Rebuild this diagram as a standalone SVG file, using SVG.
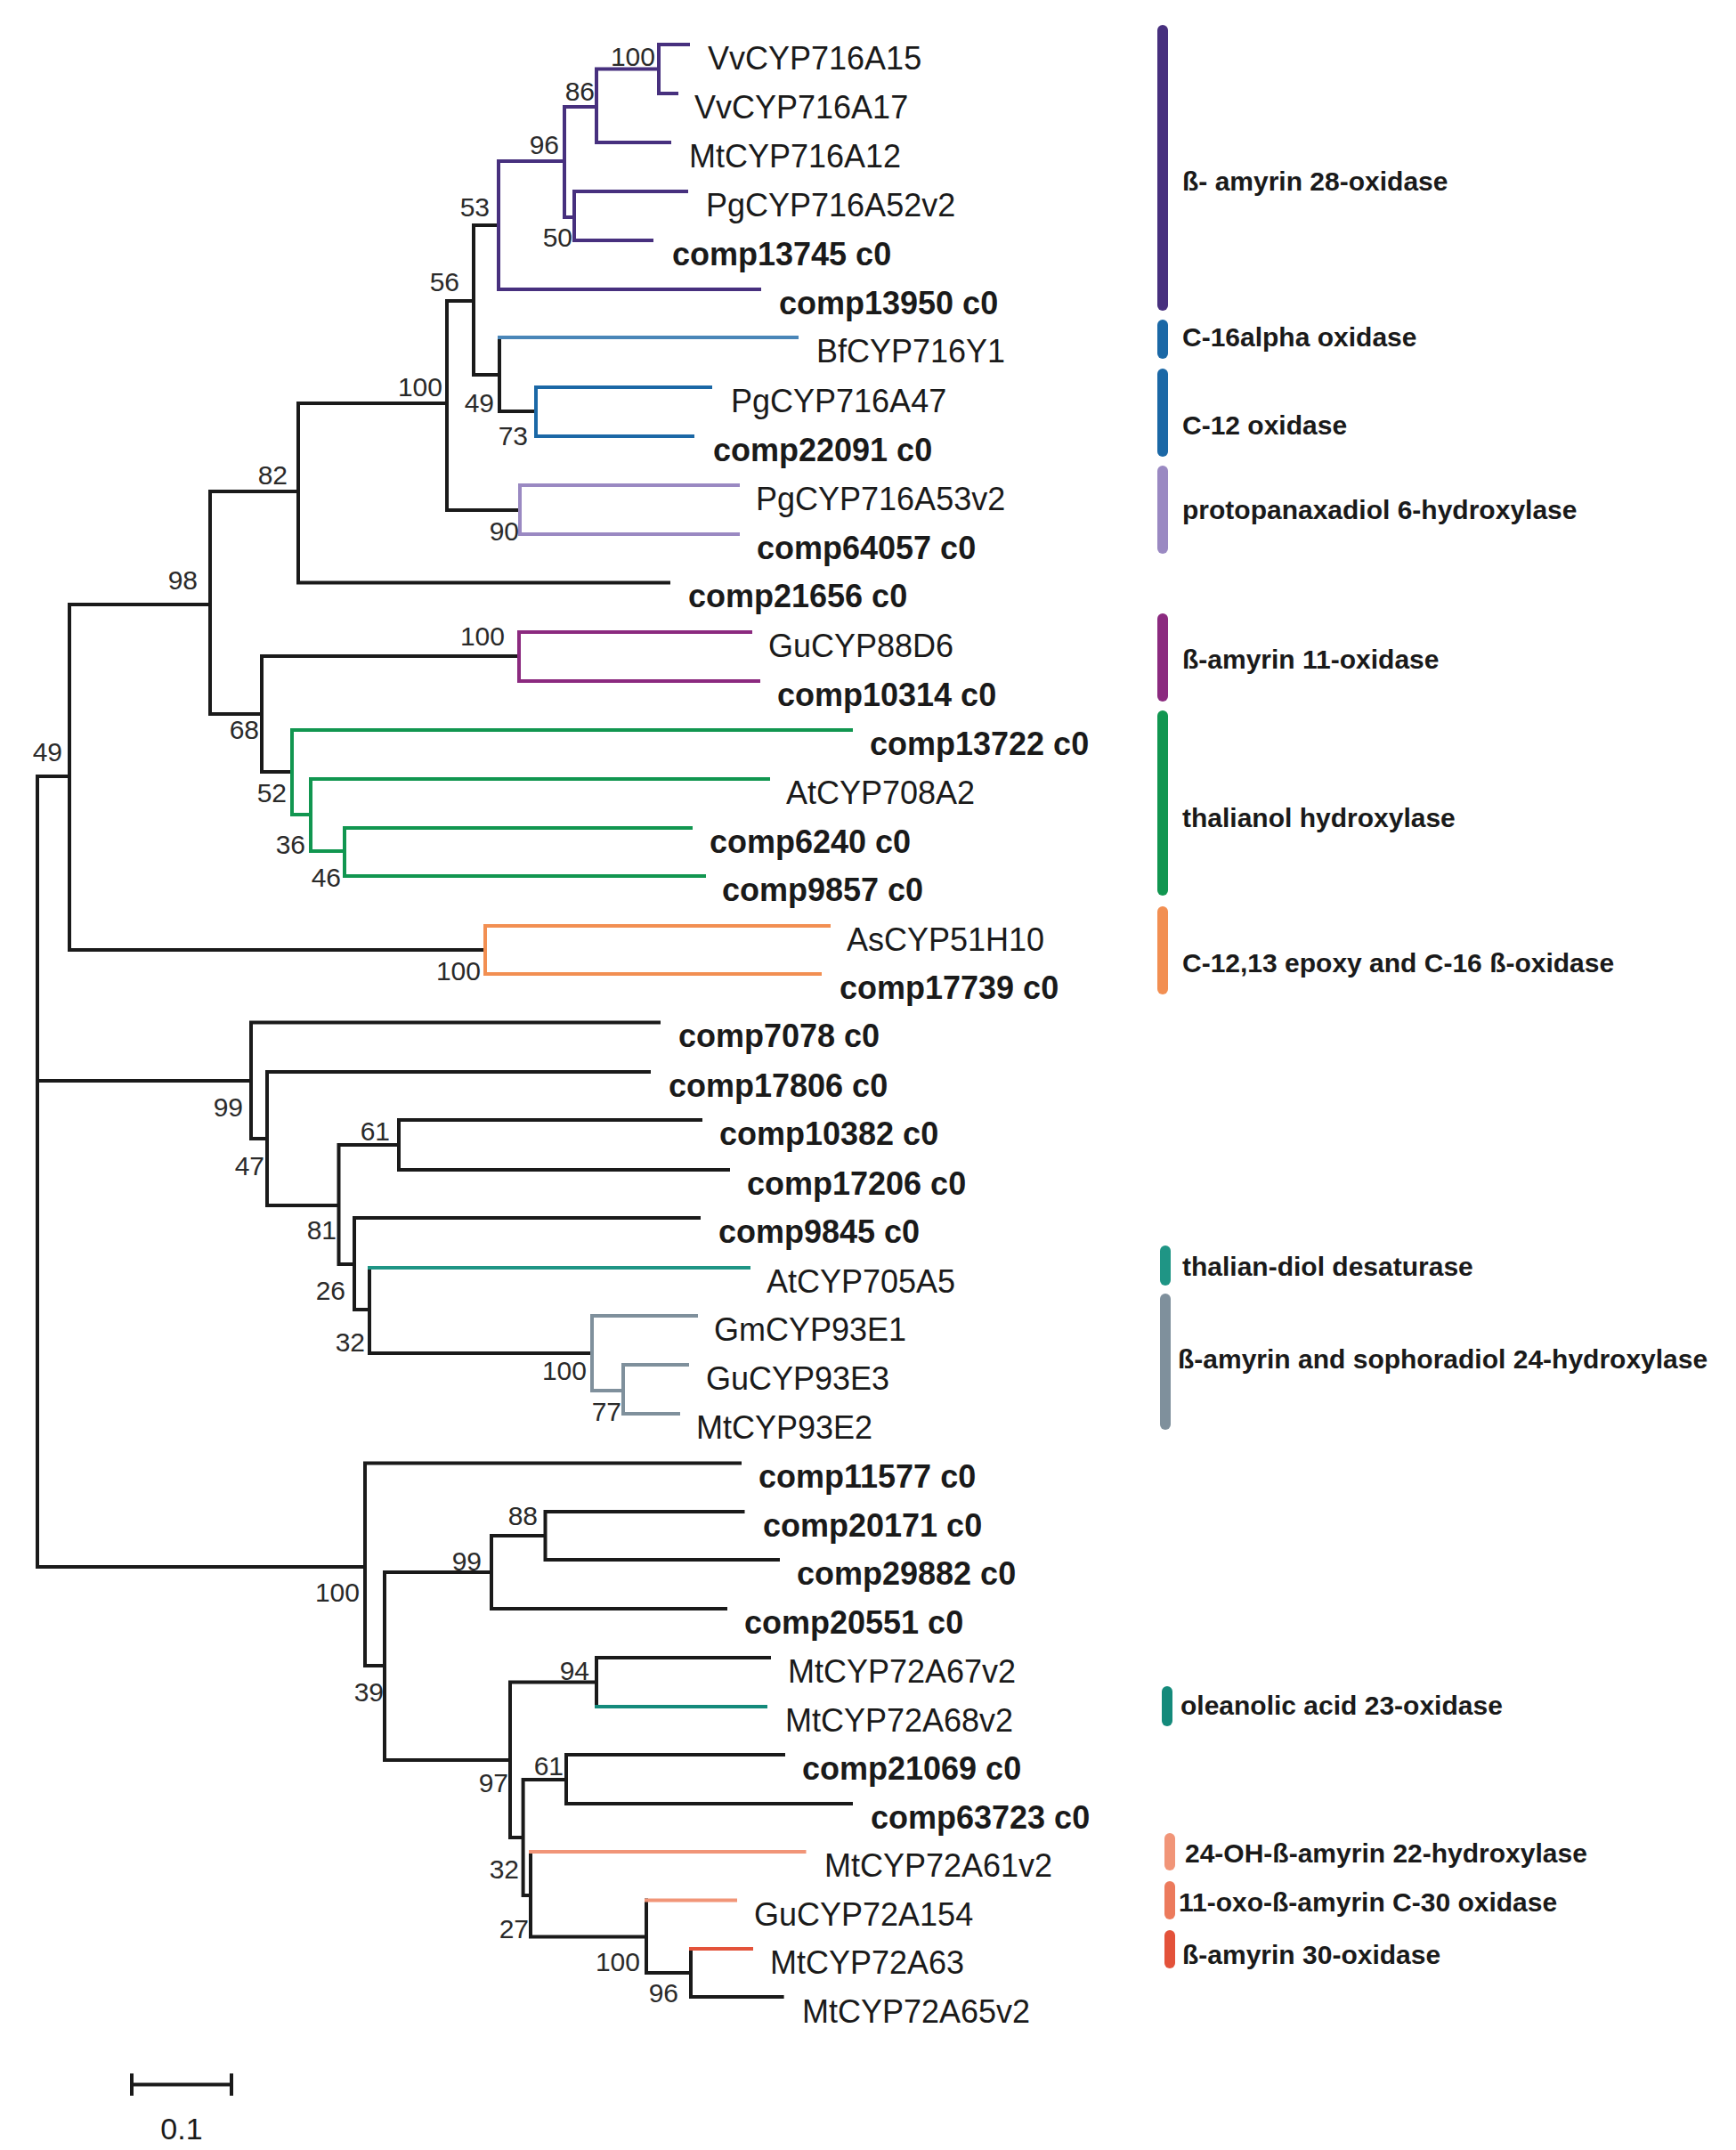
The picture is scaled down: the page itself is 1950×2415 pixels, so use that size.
<svg xmlns="http://www.w3.org/2000/svg" width="1950" height="2415" viewBox="0 0 1950 2415">
<style>
.b{fill:none;stroke-width:4;stroke-linecap:square}
.k{stroke:#1a1a1a}.pu{stroke:#47307e}.bf{stroke:#4a86b8}.bl{stroke:#1b68a6}.lv{stroke:#9a89c2}.mg{stroke:#8b2a7f}.gr{stroke:#119650}.or{stroke:#f28f52}.tl{stroke:#1f9585}.gy{stroke:#7f909c}.ol{stroke:#148a7b}.sa{stroke:#f19578}.s2{stroke:#ec7a5c}.rd{stroke:#e3523a}
.leaf{font-family:"Liberation Sans",Arial,sans-serif;font-size:36px;fill:#1a1a1a}
.bold{font-weight:bold}
.bs{font-family:"Liberation Sans",Arial,sans-serif;font-size:30px;fill:#2a2a2a;text-anchor:end}
.lg{font-family:"Liberation Sans",Arial,sans-serif;font-size:30px;font-weight:bold;fill:#1a1a1a}
.bar{stroke-width:12;stroke-linecap:round;fill:none}
</style>
<rect width="1950" height="2415" fill="#ffffff"/>
<g id="connectors">
<path class="b k" d="M42,872V1760M42,872H78M42,1214H282M42,1760H410
M78,679V1067M78,679H236M78,1067H545
M236,552V802M236,552H335M236,802H294
M335,453V654.5M335,453H502M335,654.5H751
M502,338V573M502,338H532M502,573H584
M532,253V421M532,253H560M532,421H561
M561,379V462M561,462H602
M294,737V867M294,737H583M294,867H328
M282,1148.5V1279M282,1148.5H740M282,1279H300
M300,1204V1354M300,1204H729M300,1354H380.5
M380.5,1286V1420M380.5,1286H448M380.5,1420H398
M448,1258V1314M448,1258H787M448,1314H818
M398,1368V1471M398,1368H785M398,1471H415
M415,1424V1520M415,1520H665
M410,1643.5V1871M410,1643.5H831M410,1871H432
M432,1766V1977M432,1766H552M432,1977H573
M552,1725V1807M552,1725H612.5M552,1807H815
M612.5,1698V1752M612.5,1698H834.5M612.5,1752H874
M573,1889.5V2064M573,1889.5H670M573,2064H587.6
M670,1862V1917M670,1862H864
M587.6,1999V2129M587.6,1999H636M587.6,2129H596
M636,1971V2026M636,1971H880M636,2026H956
M596,2080V2175.5M596,2175.5H726
M726,2134.5V2216M726,2216H776
M776,2189V2243M776,2243H878.6"/>
<path class="b pu" d="M560,181V325M560,181H634M560,325H853
M634,120V244M634,120H670M634,244H645
M670,77.5V160M670,77.5H740M670,160H752
M740,50V105M740,50H773M740,105H760
M645,215V270M645,215H771M645,270H732"/>
<path class="b bf" d="M561,379H895"/>
<path class="b bl" d="M602,435V490M602,435H798M602,490H778"/>
<path class="b lv" d="M584,545V600M584,545H829M584,600H829"/>
<path class="b mg" d="M583,710V765M583,710H843M583,765H852"/>
<path class="b gr" d="M328,820V915M328,820H956M328,915H349
M349,875V956M349,875H863M349,956H387
M387,930V984M387,930H776M387,984H791"/>
<path class="b or" d="M545,1040V1094M545,1040H931M545,1094H921"/>
<path class="b tl" d="M415,1424H841"/>
<path class="b gy" d="M665,1478V1562M665,1478H782M665,1562H700
M700,1533V1588M700,1533H772M700,1588H762"/>
<path class="b ol" d="M670,1917H860"/>
<path class="b sa" d="M596,2080H903.5M726,2134.5H826"/>
<path class="b rd" d="M776,2189H844"/>
</g>
<g id="bootstrap">
<text class="bs" x="736" y="74">100</text>
<text class="bs" x="668" y="113">86</text>
<text class="bs" x="628" y="173">96</text>
<text class="bs" x="550" y="243">53</text>
<text class="bs" x="643" y="277">50</text>
<text class="bs" x="516" y="327">56</text>
<text class="bs" x="497" y="445">100</text>
<text class="bs" x="555" y="463">49</text>
<text class="bs" x="593" y="500">73</text>
<text class="bs" x="323" y="544">82</text>
<text class="bs" x="583" y="607">90</text>
<text class="bs" x="222" y="662">98</text>
<text class="bs" x="567" y="725">100</text>
<text class="bs" x="291" y="830">68</text>
<text class="bs" x="70" y="855">49</text>
<text class="bs" x="322" y="901">52</text>
<text class="bs" x="343" y="959">36</text>
<text class="bs" x="383" y="996">46</text>
<text class="bs" x="540" y="1101">100</text>
<text class="bs" x="273" y="1254">99</text>
<text class="bs" x="297" y="1320">47</text>
<text class="bs" x="438" y="1281">61</text>
<text class="bs" x="378" y="1392">81</text>
<text class="bs" x="388" y="1460">26</text>
<text class="bs" x="410" y="1518">32</text>
<text class="bs" x="659" y="1550">100</text>
<text class="bs" x="698" y="1596">77</text>
<text class="bs" x="604" y="1713">88</text>
<text class="bs" x="541" y="1764">99</text>
<text class="bs" x="404" y="1799">100</text>
<text class="bs" x="431" y="1911">39</text>
<text class="bs" x="662" y="1887">94</text>
<text class="bs" x="571" y="2013">97</text>
<text class="bs" x="633" y="1994">61</text>
<text class="bs" x="583" y="2110">32</text>
<text class="bs" x="594" y="2177">27</text>
<text class="bs" x="719" y="2214">100</text>
<text class="bs" x="762" y="2249">96</text>
</g>
<g id="leaves">
<g id="VvCYP716A15"><text class="leaf" x="795" y="78">VvCYP716A15</text></g>
<g id="VvCYP716A17"><text class="leaf" x="780" y="133">VvCYP716A17</text></g>
<g id="MtCYP716A12"><text class="leaf" x="774" y="188">MtCYP716A12</text></g>
<g id="PgCYP716A52v2"><text class="leaf" x="793" y="243">PgCYP716A52v2</text></g>
<g id="comp13745"><text class="leaf bold" x="755" y="298">comp13745 c0</text></g>
<g id="comp13950"><text class="leaf bold" x="875" y="353">comp13950 c0</text></g>
<g id="BfCYP716Y1"><text class="leaf" x="917" y="407">BfCYP716Y1</text></g>
<g id="PgCYP716A47"><text class="leaf" x="821" y="463">PgCYP716A47</text></g>
<g id="comp22091"><text class="leaf bold" x="801" y="518">comp22091 c0</text></g>
<g id="PgCYP716A53v2"><text class="leaf" x="849" y="573">PgCYP716A53v2</text></g>
<g id="comp64057"><text class="leaf bold" x="850" y="628">comp64057 c0</text></g>
<g id="comp21656"><text class="leaf bold" x="773" y="682">comp21656 c0</text></g>
<g id="GuCYP88D6"><text class="leaf" x="863" y="738">GuCYP88D6</text></g>
<g id="comp10314"><text class="leaf bold" x="873" y="793">comp10314 c0</text></g>
<g id="comp13722"><text class="leaf bold" x="977" y="848">comp13722 c0</text></g>
<g id="AtCYP708A2"><text class="leaf" x="883" y="903">AtCYP708A2</text></g>
<g id="comp6240"><text class="leaf bold" x="797" y="958">comp6240 c0</text></g>
<g id="comp9857"><text class="leaf bold" x="811" y="1012">comp9857 c0</text></g>
<g id="AsCYP51H10"><text class="leaf" x="951" y="1068">AsCYP51H10</text></g>
<g id="comp17739"><text class="leaf bold" x="943" y="1122">comp17739 c0</text></g>
<g id="comp7078"><text class="leaf bold" x="762" y="1176">comp7078 c0</text></g>
<g id="comp17806"><text class="leaf bold" x="751" y="1232">comp17806 c0</text></g>
<g id="comp10382"><text class="leaf bold" x="808" y="1286">comp10382 c0</text></g>
<g id="comp17206"><text class="leaf bold" x="839" y="1342">comp17206 c0</text></g>
<g id="comp9845"><text class="leaf bold" x="807" y="1396">comp9845 c0</text></g>
<g id="AtCYP705A5"><text class="leaf" x="861" y="1452">AtCYP705A5</text></g>
<g id="GmCYP93E1"><text class="leaf" x="802" y="1506">GmCYP93E1</text></g>
<g id="GuCYP93E3"><text class="leaf" x="793" y="1561">GuCYP93E3</text></g>
<g id="MtCYP93E2"><text class="leaf" x="782" y="1616">MtCYP93E2</text></g>
<g id="comp11577"><text class="leaf bold" x="852" y="1671">comp11577 c0</text></g>
<g id="comp20171"><text class="leaf bold" x="857" y="1726">comp20171 c0</text></g>
<g id="comp29882"><text class="leaf bold" x="895" y="1780">comp29882 c0</text></g>
<g id="comp20551"><text class="leaf bold" x="836" y="1835">comp20551 c0</text></g>
<g id="MtCYP72A67v2"><text class="leaf" x="885" y="1890">MtCYP72A67v2</text></g>
<g id="MtCYP72A68v2"><text class="leaf" x="882" y="1945">MtCYP72A68v2</text></g>
<g id="comp21069"><text class="leaf bold" x="901" y="1999">comp21069 c0</text></g>
<g id="comp63723"><text class="leaf bold" x="978" y="2054">comp63723 c0</text></g>
<g id="MtCYP72A61v2"><text class="leaf" x="926" y="2108">MtCYP72A61v2</text></g>
<g id="GuCYP72A154"><text class="leaf" x="847" y="2163">GuCYP72A154</text></g>
<g id="MtCYP72A63"><text class="leaf" x="865" y="2217">MtCYP72A63</text></g>
<g id="MtCYP72A65v2"><text class="leaf" x="901" y="2272">MtCYP72A65v2</text></g>
</g>
<g id="legend">
<g id="lg-28ox"><path class="bar pu" d="M1306,34V343"/><text class="lg" x="1328" y="214">ß- amyrin 28-oxidase</text></g>
<g id="lg-c16"><path class="bar bl" d="M1306,365V397"/><text class="lg" x="1328" y="389">C-16alpha oxidase</text></g>
<g id="lg-c12"><path class="bar bl" d="M1306,420V507"/><text class="lg" x="1328" y="488">C-12 oxidase</text></g>
<g id="lg-ppd"><path class="bar lv" d="M1306,529V616"/><text class="lg" x="1328" y="583">protopanaxadiol 6-hydroxylase</text></g>
<g id="lg-11ox"><path class="bar mg" d="M1306,695V782"/><text class="lg" x="1328" y="751">ß-amyrin 11-oxidase</text></g>
<g id="lg-thal"><path class="bar gr" d="M1306,804V1000"/><text class="lg" x="1328" y="929">thalianol hydroxylase</text></g>
<g id="lg-epoxy"><path class="bar or" d="M1306,1024V1111"/><text class="lg" x="1328" y="1092">C-12,13 epoxy and C-16 ß-oxidase</text></g>
<g id="lg-desat"><path class="bar tl" d="M1309,1405V1438"/><text class="lg" x="1328" y="1433">thalian-diol desaturase</text></g>
<g id="lg-24oh"><path class="bar gy" d="M1309,1459V1600"/><text class="lg" x="1323" y="1537">ß-amyrin and sophoradiol 24-hydroxylase</text></g>
<g id="lg-23ox"><path class="bar ol" d="M1311,1900V1933"/><text class="lg" x="1326" y="1926">oleanolic acid 23-oxidase</text></g>
<g id="lg-22oh"><path class="bar sa" d="M1314,2065V2095"/><text class="lg" x="1331" y="2092">24-OH-ß-amyrin 22-hydroxylase</text></g>
<g id="lg-c30"><path class="bar s2" d="M1314,2119V2150"/><text class="lg" x="1324" y="2147">11-oxo-ß-amyrin C-30 oxidase</text></g>
<g id="lg-30ox"><path class="bar rd" d="M1314,2174V2205"/><text class="lg" x="1328" y="2206">ß-amyrin 30-oxidase</text></g>
</g>
<g id="scalebar">
<path class="b k" d="M148,2341.5H260M148,2331V2352M260,2331V2352" stroke-linecap="butt"/>
<text x="204" y="2403" text-anchor="middle" font-family="Liberation Sans, Arial, sans-serif" font-size="34" fill="#1a1a1a">0.1</text>
</g>
</svg>
